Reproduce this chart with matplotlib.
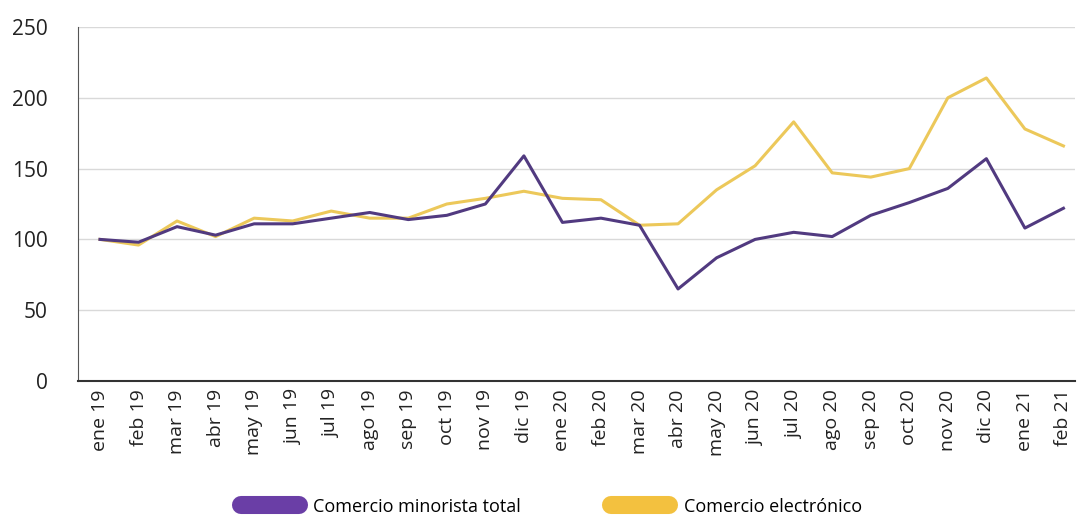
import matplotlib.pyplot as plt
from matplotlib.lines import Line2D

months = ["ene 19", "feb 19", "mar 19", "abr 19", "may 19", "jun 19", "jul 19", "ago 19",
          "sep 19", "oct 19", "nov 19", "dic 19", "ene 20", "feb 20", "mar 20", "abr 20",
          "may 20", "jun 20", "jul 20", "ago 20", "sep 20", "oct 20", "nov 20", "dic 20",
          "ene 21", "feb 21"]

minorista = [100, 98, 109, 103, 111, 111, 115, 119, 114, 117, 125, 159, 112, 115, 110, 65,
             87, 100, 105, 102, 117, 126, 136, 157, 108, 122]
electronico = [100, 96, 113, 102, 115, 113, 120, 115, 115, 125, 129, 134, 129, 128, 110, 111,
               135, 152, 183, 147, 144, 150, 200, 214, 178, 166]

purple = "#513a80"
yellow = "#ecc85a"

plt.rcParams['font.family'] = ['Open Sans', 'DejaVu Sans']

fig = plt.figure(figsize=(10.77, 5.19), dpi=100)
ax = fig.add_axes([78 / 1077, 138 / 519, 997 / 1077, 354 / 519])

x = range(len(months))
ax.plot(x, electronico, color=yellow, lw=2.2)
ax.plot(x, minorista, color=purple, lw=2.2)

ax.set_ylim(0, 250)
ax.set_xlim(-0.57, 25.3)
ax.set_yticks([0, 50, 100, 150, 200, 250])
ax.yaxis.grid(True, color="#d9d9d9", lw=1)
ax.set_axisbelow(True)
ax.set_xticks(list(x))
ax.set_xticklabels(months, rotation=90, fontsize=14, color="#222222")
ax.tick_params(axis="y", length=0, labelsize=15, labelcolor="#222222", pad=22)
ax.tick_params(axis="x", length=0, pad=6)
for s in ["top", "right"]:
    ax.spines[s].set_visible(False)
ax.spines["left"].set_color("#555555")
ax.spines["bottom"].set_color("#333333")
ax.spines["bottom"].set_linewidth(1.5)

handles = [Line2D([], [], color="#6a3ea6", lw=13, solid_capstyle="round"),
           Line2D([], [], color="#f3c13f", lw=13, solid_capstyle="round")]
fig.legend(handles, ["Comercio minorista total", "Comercio electrónico"],
           loc="lower center", bbox_to_anchor=(0.512, -0.025), ncol=2, frameon=False,
           fontsize=13, handlelength=3.2, columnspacing=5, handletextpad=0.8)

fig.savefig("out.png", dpi=100)
